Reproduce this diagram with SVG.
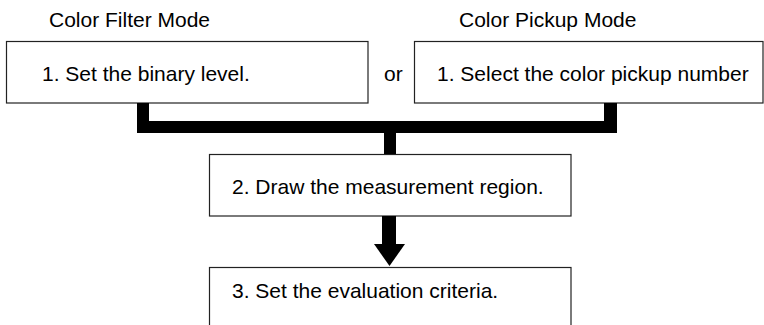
<svg xmlns="http://www.w3.org/2000/svg" width="764" height="325" viewBox="0 0 764 325">
<style>
.box{fill:#fff;stroke:#222;stroke-width:1.2}
.t{font-family:"Liberation Sans",Arial,sans-serif;font-size:21px;fill:#000}
.c{fill:#000}
</style>
<rect width="764" height="325" fill="#fff"/>
<text class="t" x="49" y="26.5">Color Filter Mode</text>
<text class="t" x="459" y="26.5">Color Pickup Mode</text>
<text class="t" x="384" y="81">or</text>
<g id="n1"><rect class="box" x="6.5" y="41.5" width="361.5" height="61.5"/><text class="t" x="42" y="81">1. Set the binary level.</text></g>
<g id="n1b"><rect class="box" x="414.5" y="41.5" width="348.5" height="61.5"/><text class="t" x="437" y="81">1. Select the color pickup number</text></g>
<g id="n2"><rect class="box" x="209.5" y="154.5" width="361.5" height="61.5"/><text class="t" x="232" y="194">2. Draw the measurement region.</text></g>
<g id="n3"><rect class="box" x="209.5" y="267.5" width="361.5" height="70"/><text class="t" x="232" y="298">3. Set the evaluation criteria.</text></g>
<g id="connectors">
<rect class="c" x="137" y="103" width="12" height="30"/>
<rect class="c" x="604" y="103" width="13" height="30"/>
<rect class="c" x="137" y="121" width="480" height="12"/>
<rect class="c" x="384" y="133" width="12" height="21"/>
<rect class="c" x="382" y="216" width="14" height="29"/>
<polygon class="c" points="374,244 405,244 389.5,266"/>
</g>
</svg>
